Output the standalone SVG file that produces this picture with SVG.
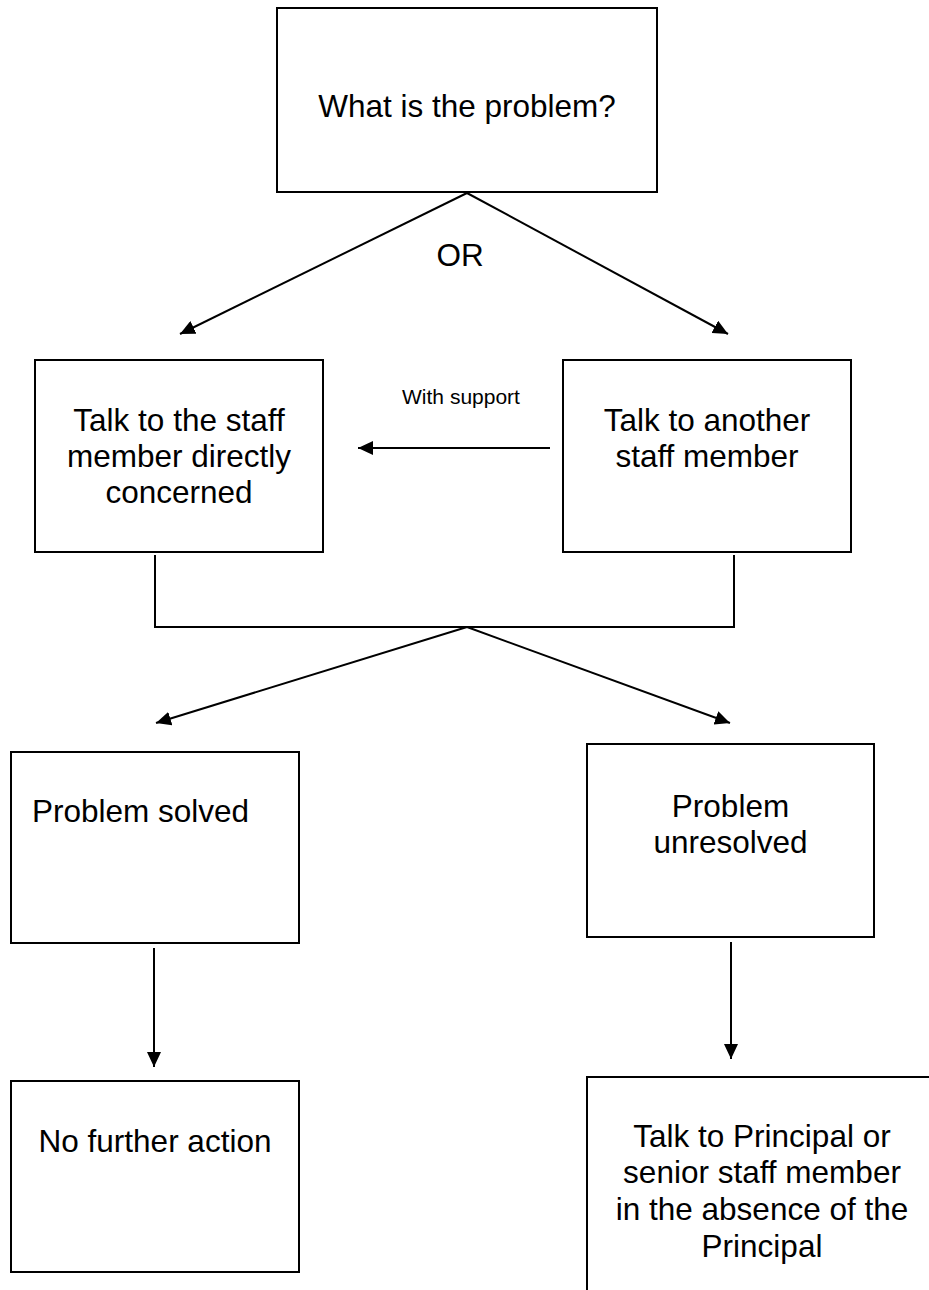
<svg xmlns="http://www.w3.org/2000/svg" width="929" height="1290" viewBox="0 0 929 1290">
<defs>
<style>
.box{fill:#fff;stroke:#000;stroke-width:2}
.t{font-family:"Liberation Sans",Arial,sans-serif;font-size:31.5px;fill:#000;text-anchor:middle}
.s{font-family:"Liberation Sans",Arial,sans-serif;font-size:21px;fill:#000;text-anchor:middle}
.ln{fill:none;stroke:#000;stroke-width:2}
.ar{fill:none;stroke:#000;stroke-width:2;marker-end:url(#ah)}
</style>
<marker id="ah" markerUnits="userSpaceOnUse" markerWidth="16" markerHeight="14" refX="15" refY="7" orient="auto">
<path d="M0,0 L15,7 L0,14 Z" fill="#000"/>
</marker>
</defs>
<rect width="929" height="1290" fill="#fff"/>
<g id="connectors">
<path class="ar" d="M467,193 L180,334"/>
<path class="ar" d="M467,193 L728,334"/>
<text class="t" x="460" y="266">OR</text>
<path class="ar" d="M550,448 L358,448"/>
<text class="s" x="461" y="404">With support</text>
<path class="ln" d="M155,555 L155,627 L734,627 L734,555"/>
<path class="ar" d="M467,627 L156,723"/>
<path class="ar" d="M467,627 L730,723"/>
<path class="ar" d="M154,948 L154,1067"/>
<path class="ar" d="M731,942 L731,1059"/>
</g>
<g id="n1">
<rect class="box" x="277" y="8" width="380" height="184"/>
<text class="t" x="467" y="117">What is the problem?</text>
</g>
<g id="n2">
<rect class="box" x="35" y="360" width="288" height="192"/>
<text class="t" x="179" y="431">Talk to the staff</text>
<text class="t" x="179" y="467">member directly</text>
<text class="t" x="179" y="503">concerned</text>
</g>
<g id="n3">
<rect class="box" x="563" y="360" width="288" height="192"/>
<text class="t" x="707" y="431">Talk to another</text>
<text class="t" x="707" y="467">staff member</text>
</g>
<g id="n4">
<rect class="box" x="11" y="752" width="288" height="191"/>
<text class="t" x="32" y="822" style="text-anchor:start">Problem solved</text>
</g>
<g id="n5">
<rect class="box" x="587" y="744" width="287" height="193"/>
<text class="t" x="730.5" y="817">Problem</text>
<text class="t" x="730.5" y="853">unresolved</text>
</g>
<g id="n6">
<rect class="box" x="11" y="1081" width="288" height="191"/>
<text class="t" x="155" y="1152">No further action</text>
</g>
<g id="n7">
<rect class="box" x="587" y="1077" width="350" height="240"/>
<text class="t" x="762" y="1147">Talk to Principal or</text>
<text class="t" x="762" y="1183">senior staff member</text>
<text class="t" x="762" y="1220">in the absence of the</text>
<text class="t" x="762" y="1257">Principal</text>
</g>
</svg>
